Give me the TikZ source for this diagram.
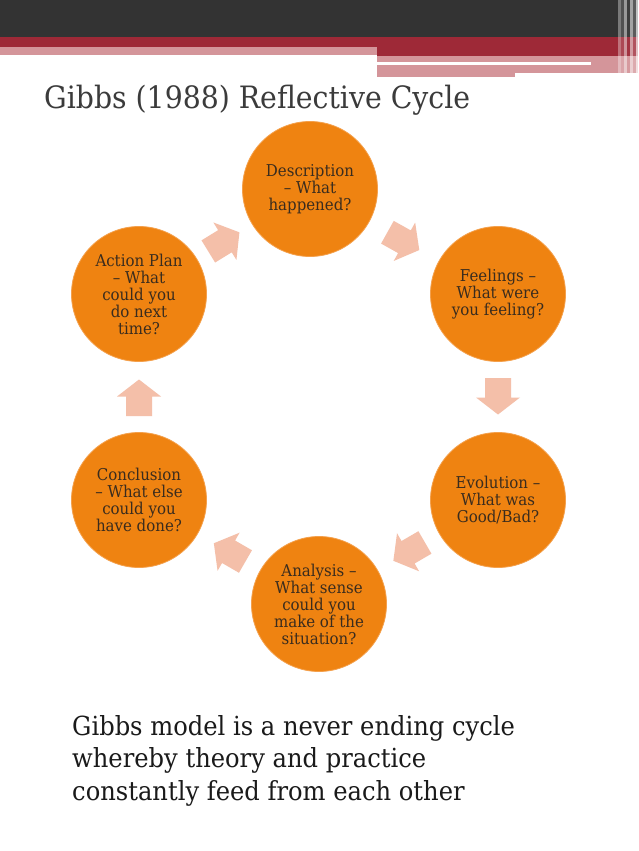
\documentclass[tikz,border=0pt]{standalone}
\usepackage{fontspec}
\setmainfont[FakeStretch=0.92]{DejaVu Serif}
\usetikzlibrary{calc}
\definecolor{darkbar}{HTML}{333333}
\definecolor{redbar}{HTML}{9E2937}
\definecolor{pinkbar}{HTML}{D4959A}
\definecolor{orangeC}{HTML}{EF8311}
\definecolor{orangeL}{HTML}{F4A04C}
\definecolor{arrowC}{HTML}{F4BFA9}
\definecolor{circText}{HTML}{3A2C1E}
\definecolor{titleC}{HTML}{3B3B3B}
\definecolor{bodyC}{HTML}{1A1A1A}
\tikzset{
  stage/.style={circle, minimum size=135pt, inner sep=0pt, fill=orangeC,
    draw=orangeL, line width=0.8pt, align=center, text=circText,
    font=\fontsize{16.3}{17}\selectfont},
  barrow/.pic={\fill[arrowC] (-19,-13) -- (0.5,-13) -- (0.5,-22) -- (17.5,0)
     -- (0.5,22) -- (0.5,13) -- (-19,13) -- cycle;},
  bodyline/.style={anchor=base west, inner sep=0pt, text=bodyC,
    font=\fontsize{26.3}{32}\selectfont}
}
\begin{document}
\begin{tikzpicture}[x=1pt,y=-1pt]
\useasboundingbox (0,0) rectangle (638,851);
\fill[white] (0,0) rectangle (638,851);
% top bands
\fill[darkbar] (0,0) rectangle (638,37);
\fill[redbar] (0,37) rectangle (377,47);
\fill[pinkbar] (0,47) rectangle (377,55);
\fill[redbar] (377,37) rectangle (638,56);
\fill[pinkbar] (377,56) rectangle (638,73);
\fill[pinkbar] (377,73) rectangle (515,77);
\fill[white] (377,62) rectangle (591,65);
% stripes at right edge
\foreach \xx/\op in {618/0.35,621/0.15,624/0.5,627/0.05,630/0.55,633/0.2,636/0.7}
  \fill[white, opacity=\op] (\xx,0) rectangle (\xx+3,73);
% title
\node[anchor=base west, inner sep=0pt, text=titleC,
  font=\fontsize{30.8}{34}\selectfont] (title) at (44,108) {Gibbs (1988) Reflective Cycle};
% stages
\node[stage] (desc) at (310,189) {Description\\– What\\happened?};
\node[stage] (feel) at (498,294) {Feelings –\\What were\\you feeling?};
\node[stage] (evol) at (498,500) {Evolution –\\What was\\Good/Bad?};
\node[stage] (anal) at (319,604) {Analysis –\\What sense\\could you\\make of the\\situation?};
\node[stage] (conc) at (139,500) {Conclusion\\– What else\\could you\\have done?};
\node[stage] (act) at (139,294) {Action Plan\\– What\\could you\\do next\\time?};
% arrows
\foreach \a/\b in {act/desc, desc/feel, feel/evol, evol/anal, anal/conc, conc/act}
  \path let \p1=($(\b)-(\a)$), \n1={atan2(\y1,\x1)} in
    ($(\a)!0.5!(\b)$) pic[rotate=\n1] {barrow};
% body text
\node[bodyline] (l1) at (72,735) {Gibbs model is a never ending cycle};
\node[bodyline] (l2) at (72,767) {whereby theory and practice};
\node[bodyline] (l3) at (72,800) {constantly feed from each other};
\end{tikzpicture}
\end{document}
